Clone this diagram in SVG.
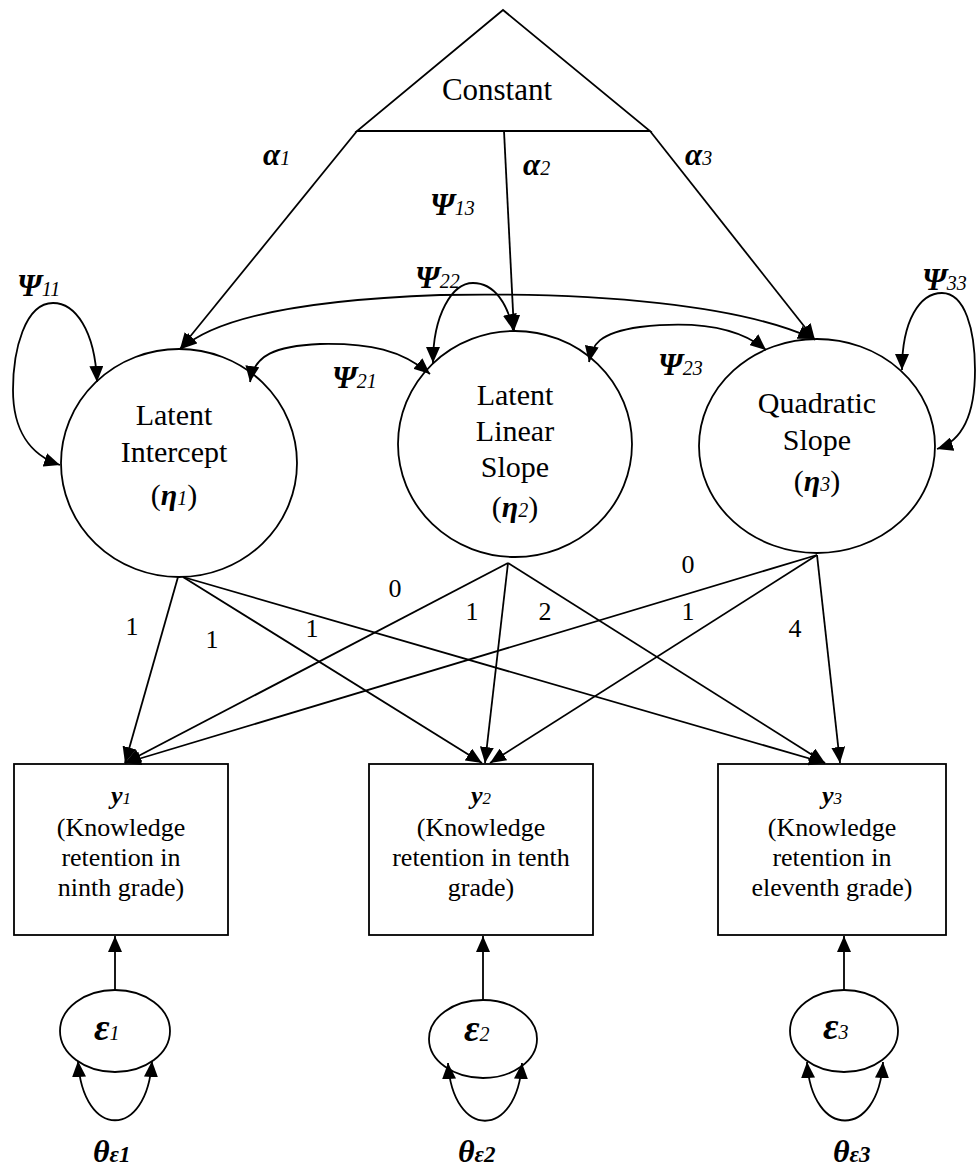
<svg xmlns="http://www.w3.org/2000/svg" width="976" height="1171" viewBox="0 0 976 1171" font-family="Liberation Serif, Times New Roman, serif">
<style>
.s{fill:none;stroke:#000;stroke-width:1.8}
.n{fill:#fff;stroke:#000;stroke-width:1.8}
text{font-family:'Liberation Serif','Times New Roman',serif;fill:#000}
.t30{font-size:30px;text-anchor:middle}
.t26{font-size:26px;text-anchor:middle}
.lab{font-size:31px;font-weight:bold;font-style:italic}
.sub{font-size:20px;font-weight:normal;font-style:italic}
.num{font-size:26px;text-anchor:middle}
.bi{font-weight:bold;font-style:italic}
</style>
<defs>
<marker id="ah" viewBox="0 0 16 14" refX="16" refY="7" markerWidth="16" markerHeight="14" markerUnits="userSpaceOnUse" orient="auto-start-reverse">
<path d="M0,0 L16,7 L0,14 z" fill="#000"/>
</marker>
</defs>

<g id="constant">
<polygon class="n" points="503,10 357,131 650,131"/>
<text x="497" y="100" font-family="Liberation Serif, serif" style="font-size:31px;text-anchor:middle">Constant</text>
</g>

<g id="intercept" font-family="Liberation Serif, serif">
<ellipse class="n" cx="179" cy="463" rx="118" ry="114"/>
<text class="t30" x="174" y="425">Latent</text>
<text class="t30" x="174" y="462">Intercept</text>
<text class="t30" x="174" y="505">(<tspan class="bi">η</tspan><tspan class="sub">1</tspan>)</text>
</g>

<g id="linear" font-family="Liberation Serif, serif">
<ellipse class="n" cx="515" cy="444" rx="117" ry="113"/>
<text class="t30" x="515" y="405">Latent</text>
<text class="t30" x="515" y="441">Linear</text>
<text class="t30" x="515" y="477">Slope</text>
<text class="t30" x="515" y="517">(<tspan class="bi">η</tspan><tspan class="sub">2</tspan>)</text>
</g>

<g id="quadratic" font-family="Liberation Serif, serif">
<ellipse class="n" cx="817" cy="446" rx="118" ry="107"/>
<text class="t30" x="817" y="413">Quadratic</text>
<text class="t30" x="817" y="450">Slope</text>
<text class="t30" x="817" y="491">(<tspan class="bi">η</tspan><tspan class="sub">3</tspan>)</text>
</g>

<g id="y1" font-family="Liberation Serif, serif">
<rect class="n" x="14" y="764" width="214" height="171"/>
<text class="t26" x="121" y="804"><tspan class="bi">y</tspan><tspan style="font-size:17px;font-style:italic">1</tspan></text>
<text class="t26" x="121" y="836">(Knowledge</text>
<text class="t26" x="121" y="866">retention in</text>
<text class="t26" x="121" y="896">ninth grade)</text>
</g>

<g id="y2" font-family="Liberation Serif, serif">
<rect class="n" x="369" y="764" width="224" height="171"/>
<text class="t26" x="481" y="804"><tspan class="bi">y</tspan><tspan style="font-size:17px;font-style:italic">2</tspan></text>
<text class="t26" x="481" y="836">(Knowledge</text>
<text class="t26" x="481" y="866">retention in tenth</text>
<text class="t26" x="481" y="896">grade)</text>
</g>

<g id="y3" font-family="Liberation Serif, serif">
<rect class="n" x="718" y="764" width="228" height="171"/>
<text class="t26" x="832" y="804"><tspan class="bi">y</tspan><tspan style="font-size:17px;font-style:italic">3</tspan></text>
<text class="t26" x="832" y="836">(Knowledge</text>
<text class="t26" x="832" y="866">retention in</text>
<text class="t26" x="832" y="896">eleventh grade)</text>
</g>

<g id="e1" font-family="Liberation Serif, serif">
<ellipse class="n" cx="115" cy="1031" rx="55" ry="41"/>
<text x="94" y="1040"><tspan class="bi" style="font-size:38px">ε</tspan><tspan style="font-size:20px;font-style:italic">1</tspan></text>
</g>
<g id="e2" font-family="Liberation Serif, serif">
<ellipse class="n" cx="483" cy="1039" rx="54" ry="39"/>
<text x="464" y="1041"><tspan class="bi" style="font-size:38px">ε</tspan><tspan style="font-size:20px;font-style:italic">2</tspan></text>
</g>
<g id="e3" font-family="Liberation Serif, serif">
<ellipse class="n" cx="844" cy="1031" rx="54" ry="41"/>
<text x="823" y="1039"><tspan class="bi" style="font-size:38px">ε</tspan><tspan style="font-size:20px;font-style:italic">3</tspan></text>
</g>

<g id="connectors" class="s">
<line x1="357" y1="131" x2="180" y2="349" marker-end="url(#ah)"/>
<line x1="504" y1="131" x2="514" y2="331" marker-end="url(#ah)"/>
<line x1="650" y1="131" x2="815" y2="340" marker-end="url(#ah)"/>
<path d="M181 349 C215 318 300 300 440 295 C600 292 740 305 814 339" marker-start="url(#ah)" marker-end="url(#ah)"/>
<path d="M97 382 C95 330 75 303 53 303 C25 303 13 350 13 390 C13 430 30 455 60 465" marker-start="url(#ah)" marker-end="url(#ah)"/>
<path d="M902 370 C902 320 920 293 942 293 C965 293 975 330 975 370 C975 410 965 440 937 449" marker-start="url(#ah)" marker-end="url(#ah)"/>
<path d="M433 363 C433 315 452 283 473 283 C495 283 508 305 513 330" marker-start="url(#ah)" marker-end="url(#ah)"/>
<path d="M250 382 C254 355 275 346 320 344 C370 343 402 350 430 374" marker-start="url(#ah)" marker-end="url(#ah)"/>
<path d="M589 362 C592 345 598 333 640 327 C700 320 740 328 766 350" marker-start="url(#ah)" marker-end="url(#ah)"/>
<line x1="178" y1="577" x2="125" y2="763" marker-end="url(#ah)"/>
<line x1="183" y1="577" x2="482" y2="763" marker-end="url(#ah)"/>
<line x1="183" y1="577" x2="825" y2="763" marker-end="url(#ah)"/>
<line x1="508" y1="563" x2="125" y2="763" marker-end="url(#ah)"/>
<line x1="508" y1="563" x2="485" y2="763" marker-end="url(#ah)"/>
<line x1="508" y1="563" x2="825" y2="763" marker-end="url(#ah)"/>
<line x1="817" y1="555" x2="125" y2="763" marker-end="url(#ah)"/>
<line x1="817" y1="555" x2="490" y2="763" marker-end="url(#ah)"/>
<line x1="817" y1="555" x2="840" y2="763" marker-end="url(#ah)"/>
<line x1="115" y1="990" x2="115" y2="936" marker-end="url(#ah)"/>
<line x1="483" y1="1000" x2="483" y2="936" marker-end="url(#ah)"/>
<line x1="844" y1="990" x2="844" y2="936" marker-end="url(#ah)"/>
<path d="M78 1061 C83 1140 147 1140 152 1061" marker-start="url(#ah)" marker-end="url(#ah)"/>
<path d="M448 1063 C453 1140 517 1140 522 1063" marker-start="url(#ah)" marker-end="url(#ah)"/>
<path d="M807 1062 C812 1140 878 1140 883 1062" marker-start="url(#ah)" marker-end="url(#ah)"/>
</g>

<g id="labels" font-family="Liberation Serif, serif">
<text class="lab" x="17" y="296">Ψ<tspan class="sub">11</tspan></text>
<text class="lab" x="263" y="165">α<tspan class="sub">1</tspan></text>
<text class="lab" x="523" y="175">α<tspan class="sub">2</tspan></text>
<text class="lab" x="685" y="165">α<tspan class="sub">3</tspan></text>
<text class="lab" x="430" y="215">Ψ<tspan class="sub">13</tspan></text>
<text class="lab" x="415" y="288">Ψ<tspan class="sub">22</tspan></text>
<text class="lab" x="332" y="388">Ψ<tspan class="sub">21</tspan></text>
<text class="lab" x="658" y="375">Ψ<tspan class="sub">23</tspan></text>
<text class="lab" x="922" y="290">Ψ<tspan class="sub">33</tspan></text>
<text class="num" x="132" y="635">1</text>
<text class="num" x="212" y="648">1</text>
<text class="num" x="312" y="637">1</text>
<text class="num" x="395" y="597">0</text>
<text class="num" x="472" y="620">1</text>
<text class="num" x="545" y="620">2</text>
<text class="num" x="688" y="573">0</text>
<text class="num" x="688" y="620">1</text>
<text class="num" x="795" y="637">4</text>
<text class="lab" x="93" y="1162" style="font-size:32px">θ<tspan style="font-size:23px">ε1</tspan></text>
<text class="lab" x="458" y="1162" style="font-size:32px">θ<tspan style="font-size:23px">ε2</tspan></text>
<text class="lab" x="833" y="1162" style="font-size:32px">θ<tspan style="font-size:23px">ε3</tspan></text>
</g>
</svg>
